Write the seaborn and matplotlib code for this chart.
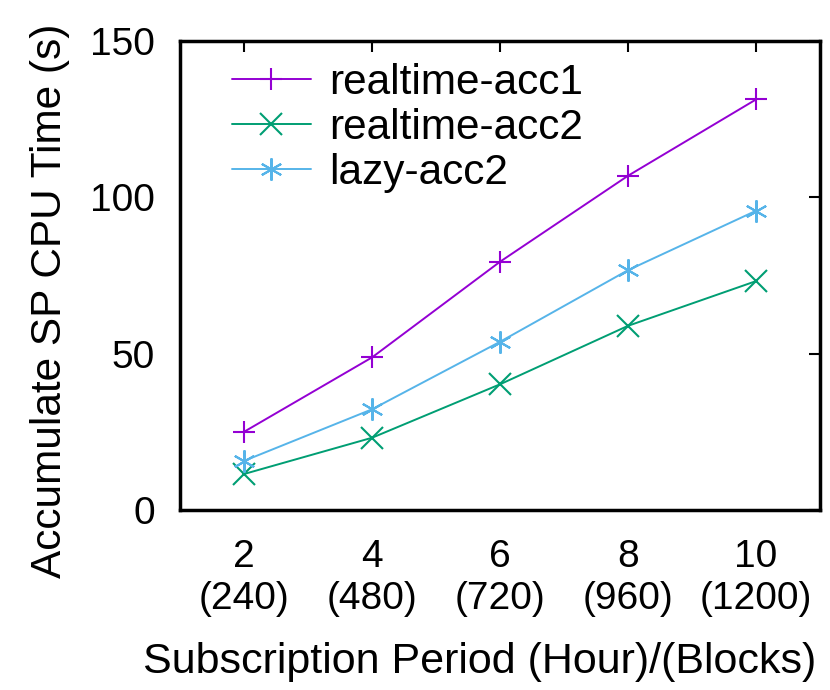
import matplotlib
matplotlib.use("Agg")
import matplotlib.pyplot as plt
import seaborn as sns
import pandas as pd

hours = [2, 4, 6, 8, 10]
tick_labels = ["2\n(240)", "4\n(480)", "6\n(720)", "8\n(960)", "10\n(1200)"]
realtime_acc1 = [25.0, 48.8, 79.4, 106.9, 131.3]
realtime_acc2 = [11.5, 23.1, 40.2, 58.9, 73.2]
lazy_acc2 = [15.7, 32.2, 53.8, 76.7, 95.7]

series = [
    ("realtime-acc1", realtime_acc1, "#9400D3", "+"),
    ("realtime-acc2", realtime_acc2, "#009E73", "x"),
    ("lazy-acc2", lazy_acc2, "#56B4E9", (6, 2, 0)),
]

sns.set_theme(style="white")
plt.rcParams["font.family"] = ["Liberation Sans", "DejaVu Sans"]
plt.rcParams["text.color"] = "black"

fig = plt.figure(figsize=(8.3, 6.9), dpi=100)
ax = fig.add_axes([0.2169, 0.2609, 0.7711, 0.6797])

for name, vals, color, marker in series:
    df = pd.DataFrame({"x": hours, "y": vals})
    sns.lineplot(data=df, x="x", y="y", ax=ax, color=color, marker=marker,
                 markersize=16, markeredgewidth=1.5, markeredgecolor=color,
                 linewidth=1.4, label=name)

ax.set_xlim(1, 11)
ax.set_ylim(0, 150)
ax.set_xticks(hours)
ax.set_xticklabels(tick_labels)
ax.set_yticks([0, 50, 100, 150])
ax.tick_params(axis="both", direction="in", length=8, width=1.5, labelsize=28,
               top=True, right=True, colors="black")
ax.tick_params(axis="y", pad=18)
ax.tick_params(axis="x", pad=21)
for lab in ax.get_xticklabels():
    lab.set_linespacing(1.22)
for s in ax.spines.values():
    s.set_visible(True)
    s.set_linewidth(2.5)
    s.set_color("black")

ax.set_xlabel("Subscription Period (Hour)/(Blocks)", fontsize=31, color="black")
ax.set_ylabel("Accumulate SP CPU Time (s)", fontsize=30.5, color="black")
ax.xaxis.set_label_coords(0.468, -0.282)
ax.yaxis.set_label_coords(-0.172, 0.446)

leg = ax.legend(loc="upper left", frameon=False, fontsize=30.5, handlelength=1.85,
                handletextpad=0.45, labelspacing=0.12, borderaxespad=0,
                bbox_to_anchor=(0.055, 0.99))
for t in leg.get_texts():
    t.set_color("black")

fig.savefig("out.png", dpi=100)
